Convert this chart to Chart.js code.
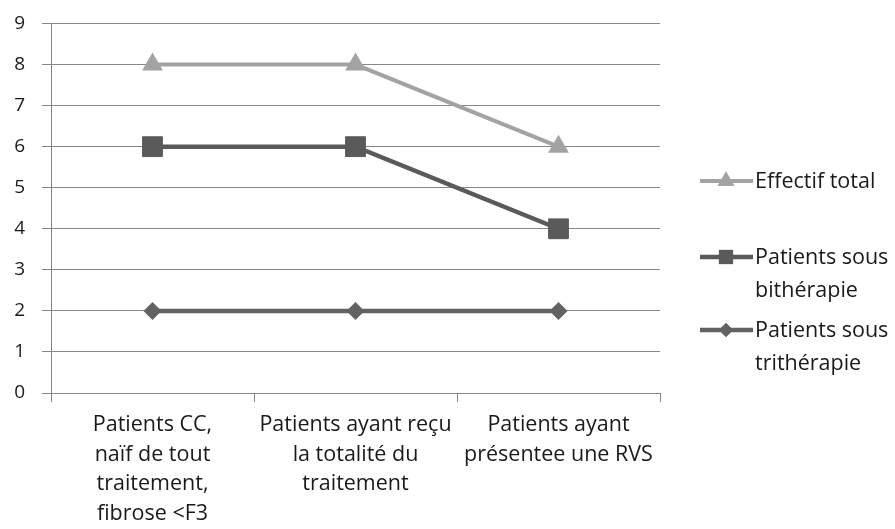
<!DOCTYPE html>
<html>
<head>
<meta charset="utf-8">
<script src="https://cdn.jsdelivr.net/npm/chart.js@4.4.0/dist/chart.umd.min.js"></script>
<style>
  html, body { margin: 0; background: #fff; }
  #wrap { width: 895px; height: 529px; position: relative; }
</style>
</head>
<body>
<div id="wrap"><canvas id="c"></canvas></div>
<script>
// ── Data ──────────────────────────────────────────────
const categories = [
  ["Patients CC,", "naïf de tout", "traitement,", "fibrose <F3"],
  ["Patients ayant reçu", "la totalité du", "traitement"],
  ["Patients ayant", "présentee une RVS"]
];
const effectifTotal = [8, 8, 6];
const bitherapie    = [6, 6, 4];
const tritherapie   = [2, 2, 2];
const yMin = 0, yMax = 9, yStep = 1;

const seriesNames  = ["Effectif total", "Patients sous bithérapie", "Patients sous trithérapie"];
const legendLines  = [["Effectif total"], ["Patients sous", "bithérapie"], ["Patients sous", "trithérapie"]];

const FONT = "'Open Sans', sans-serif";
const GRID = "#878787";

// ── Legend drawn on the canvas, right of the plot ─────
const sideLegend = {
  id: "sideLegend",
  afterDraw(chart) {
    const ctx = chart.ctx;
    const rows = [181, 257, 330];
    const sizes = [9.5, 10, 7];
    chart.data.datasets.forEach((ds, i) => {
      const y = rows[i];
      ctx.save();
      ctx.strokeStyle = ds.borderColor;
      ctx.lineWidth = ds.borderWidth;
      ctx.beginPath();
      ctx.moveTo(700, y);
      ctx.lineTo(753, y);
      ctx.stroke();
      ctx.fillStyle = ds.borderColor;
      Chart.helpers.drawPoint(ctx, { pointStyle: ds.pointStyle, radius: sizes[i], borderWidth: 0 }, 726, y);
      ctx.fill();
      ctx.fillStyle = "#1a1a1a";
      ctx.font = "21.5px " + FONT;
      ctx.textBaseline = "middle";
      ctx.textAlign = "left";
      legendLines[i].forEach((t, k) => ctx.fillText(t, 755, y + 1 + k * 33));
      ctx.restore();
    });
  }
};

new Chart(document.getElementById("c"), {
  type: "line",
  data: {
    labels: categories,
    datasets: [
      {
        label: seriesNames[0],
        data: effectifTotal,
        borderColor: "#a3a3a3",
        backgroundColor: "#a3a3a3",
        borderWidth: 4,
        pointStyle: "triangle",
        pointRadius: 12,
        pointBorderWidth: 0,
        pointBackgroundColor: "#a3a3a3"
      },
      {
        label: seriesNames[1],
        data: bitherapie,
        borderColor: "#5a5a5a",
        backgroundColor: "#5a5a5a",
        borderWidth: 4.5,
        pointStyle: "rect",
        pointRadius: 14,
        pointBorderWidth: 1,
        pointBackgroundColor: "#5a5a5a"
      },
      {
        label: seriesNames[2],
        data: tritherapie,
        borderColor: "#626262",
        backgroundColor: "#626262",
        borderWidth: 4.5,
        pointStyle: "rectRot",
        pointRadius: 9,
        pointBorderWidth: 0,
        pointBackgroundColor: "#626262"
      }
    ]
  },
  options: {
    responsive: true,
    maintainAspectRatio: false,
    animation: false,
    layout: { padding: { top: 23.5, right: 235, left: 0, bottom: 0 } },
    plugins: { legend: { display: false }, tooltip: { enabled: false } },
    scales: {
      x: {
        offset: true,
        grid: { offset: true, drawOnChartArea: false, drawTicks: true, tickLength: 9, color: GRID },
        border: { display: true, color: GRID },
        ticks: {
          color: "#1a1a1a",
          font: { family: FONT, size: 21.5, lineHeight: 1.38 },
          padding: 8,
          maxRotation: 0,
          autoSkip: false
        },
        afterFit: (s) => { s.height = 136; s.paddingTop = 0; }
      },
      y: {
        min: yMin,
        max: yMax,
        ticks: {
          stepSize: yStep,
          color: "#1a1a1a",
          font: { family: FONT, size: 19 },
          padding: 17
        },
        grid: { color: GRID, tickLength: 9, lineWidth: 1 },
        border: { display: true, color: GRID },
        afterFit: (s) => { s.width = 51; s.paddingTop = 0; s.paddingBottom = 0; }
      }
    }
  },
  plugins: [sideLegend]
});
</script>
</body>
</html>
